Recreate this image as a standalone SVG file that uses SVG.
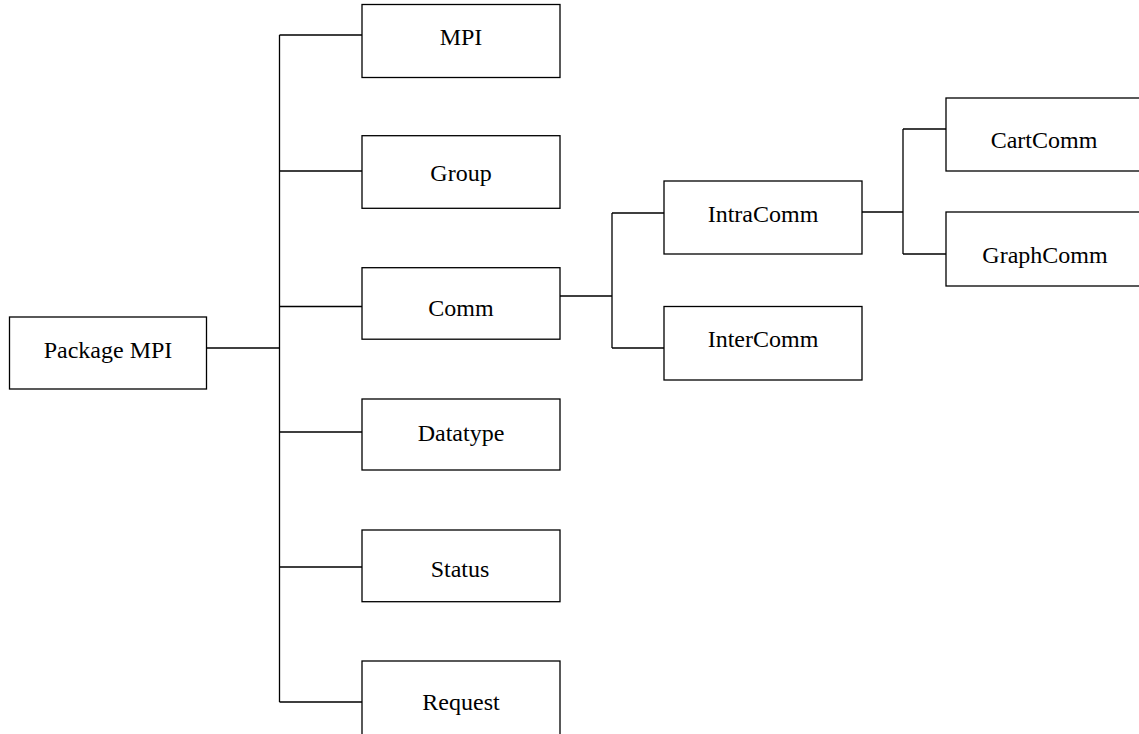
<svg xmlns="http://www.w3.org/2000/svg" width="1139" height="734" viewBox="0 0 1139 734">
<style>
.box{fill:#fff;stroke:#000;stroke-width:1.3}
.lbl{font-family:"Liberation Serif","Times New Roman",serif;font-size:24px;fill:#000;text-anchor:middle}
.conn{fill:none;stroke:#000;stroke-width:1.3}
</style>
<rect width="1139" height="734" fill="#fff"/>
<g id="connectors" class="conn">
<path d="M206.5,348 H279.5"/>
<path d="M279.5,35 V702"/>
<path d="M279.5,35 H362 M279.5,171 H362 M279.5,306.5 H362 M279.5,432 H362 M279.5,567 H362 M279.5,702 H362"/>
<path d="M560,296 H612 M612,213 V348 M612,213 H664 M612,348 H664"/>
<path d="M862,212 H903 M903,129 V254 M903,129 H946 M903,254 H946"/>
</g>
<g id="package-mpi"><rect class="box" x="9.5" y="317" width="197" height="72"/><text class="lbl" x="108" y="358">Package MPI</text></g>
<g id="mpi"><rect class="box" x="362" y="4.5" width="198" height="73"/><text class="lbl" x="461" y="45">MPI</text></g>
<g id="group"><rect class="box" x="362" y="135.7" width="198" height="72.6"/><text class="lbl" x="461" y="181">Group</text></g>
<g id="comm"><rect class="box" x="362" y="267.7" width="198" height="71.5"/><text class="lbl" x="461" y="315.7">Comm</text></g>
<g id="datatype"><rect class="box" x="362" y="399" width="198" height="71"/><text class="lbl" x="461" y="441">Datatype</text></g>
<g id="status"><rect class="box" x="362" y="530" width="198" height="71.7"/><text class="lbl" x="460" y="576.5">Status</text></g>
<g id="request"><rect class="box" x="362" y="661" width="198" height="76"/><text class="lbl" x="461" y="710">Request</text></g>
<g id="intracomm"><rect class="box" x="664" y="181" width="198" height="73"/><text class="lbl" x="763" y="221.5">IntraComm</text></g>
<g id="intercomm"><rect class="box" x="664" y="306.5" width="198" height="73.5"/><text class="lbl" x="763" y="347">InterComm</text></g>
<g id="cartcomm"><rect class="box" x="946" y="98" width="198" height="73"/><text class="lbl" x="1044" y="148">CartComm</text></g>
<g id="graphcomm"><rect class="box" x="946" y="212" width="198" height="74"/><text class="lbl" x="1045" y="263">GraphComm</text></g>
</svg>
